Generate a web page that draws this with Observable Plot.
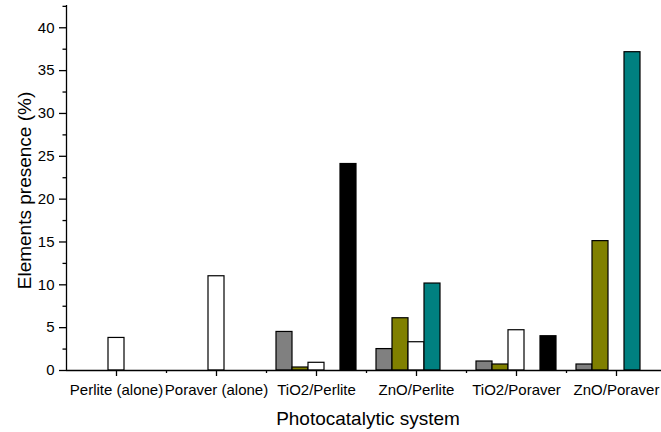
<!DOCTYPE html>
<html><head><meta charset="utf-8">
<script src="https://cdn.jsdelivr.net/npm/d3@7"></script>
<script src="https://cdn.jsdelivr.net/npm/@observablehq/plot@0.6"></script>
<style>body{margin:0;background:#fff}#c{width:661px;height:432px;overflow:hidden}#c svg{max-width:none!important}</style>
</head><body><div id="c"></div><script>
const categories = ["Perlite (alone)", "Poraver (alone)", "TiO2/Perlite", "ZnO/Perlite", "TiO2/Poraver", "ZnO/Poraver"];
const seriesNames = ["Series 1", "Series 2", "Series 3", "Series 4", "Series 5"];
const seriesColors = ["#808080", "#808000", "#ffffff", "#008080", "#000000"];
const series1 = [null, null, 4.5, 2.5, 1.05, 0.7];
const series2 = [null, null, 0.35, 6.1, 0.7, 15.1];
const series3 = [3.8, 11.0, 0.9, 3.3, 4.7, null];
const series4 = [null, null, null, 10.15, null, 37.15];
const series5 = [null, null, 24.1, null, 4.0, null];
const yTicks = [0, 5, 10, 15, 20, 25, 30, 35, 40];
const yMinorTicks = [2.5, 7.5, 12.5, 17.5, 22.5, 27.5, 32.5, 37.5, 42.5];
const xTitle = "Photocatalytic system";
const yTitle = "Elements presence (%)";

const seriesValues = [series1, series2, series3, series4, series5];
const rows = [];
seriesValues.forEach((vals, i) => vals.forEach((v, j) => {
  if (v != null) rows.push({category: categories[j], series: seriesNames[i], value: v});
}));

const xOpts = {type: "band", domain: categories, range: [66, 666], paddingInner: 0.2, paddingOuter: 0.1};
const xs = Plot.scale({x: xOpts});
const bw = xs.bandwidth;
const sub = bw / seriesNames.length;
const step = xs.step;
const font = "'Liberation Sans', Arial, sans-serif";

const chart = Plot.plot({
  width: 667,
  height: 432,
  marginLeft: 66,
  marginRight: 0,
  marginTop: 5,
  marginBottom: 62,
  style: {fontFamily: font, background: "#fff", color: "#000", maxWidth: "none"},
  x: {...xOpts, axis: null},
  y: {domain: [0, 42.6], axis: null},
  marks: [
    ...seriesNames.map((s, i) => Plot.barY(rows.filter(r => r.series === s), {
      x: "category", y: "value", fill: seriesColors[i], stroke: "#000", strokeWidth: 1.2,
      insetLeft: i * sub, insetRight: (seriesNames.length - 1 - i) * sub
    })),
    Plot.ruleY([0], {stroke: "#000", strokeWidth: 1.3}),
    Plot.ruleX([categories[0]], {dx: -step / 2, stroke: "#000", strokeWidth: 1.3}),
    Plot.axisX(categories, {tickSize: 6, tickPadding: 8, fontSize: 15, strokeWidth: 1.3, label: null}),
    Plot.axisX(categories, {tickSize: 3, text: null, dx: step / 2, strokeWidth: 1.3, label: null}),
    Plot.axisY(yTicks, {tickSize: 7, tickPadding: 5, fontSize: 15, strokeWidth: 1.3, label: null}),
    Plot.axisY(yMinorTicks, {tickSize: 3.5, text: null, strokeWidth: 1.3, label: null}),
    Plot.text([xTitle], {frameAnchor: "bottom", dy: 54, dx: 1, lineAnchor: "bottom", fontSize: 19, fill: "#000"}),
    Plot.text([yTitle], {frameAnchor: "left", textAnchor: "middle", dx: -35.5, dy: 2.5, rotate: -90, lineAnchor: "bottom", fontSize: 19, fill: "#000"})
  ]
});
document.getElementById("c").appendChild(chart);
</script></body></html>
